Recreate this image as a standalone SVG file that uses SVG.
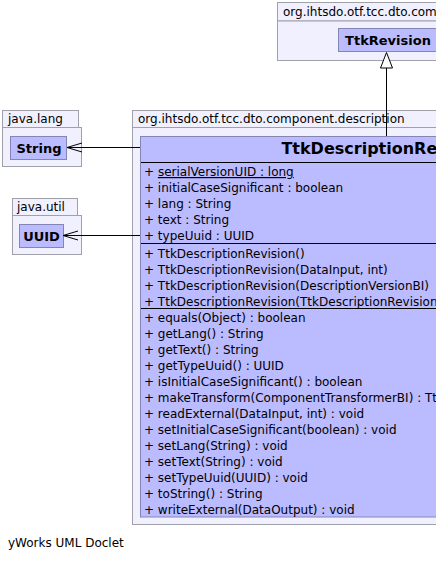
<svg xmlns="http://www.w3.org/2000/svg" width="436" height="562" viewBox="0 0 436 562">
<style>
text{font-family:"DejaVu Sans","Noto Sans",sans-serif;font-size:12px;fill:#000}
.pkg{fill:#F0F0FF;stroke:#A0A0A8;stroke-width:1}
.cls{fill:#BBBBFF;stroke:#8585B5;stroke-width:1}
.b{font-weight:bold;font-size:13px;text-anchor:middle}
.title{font-weight:bold;font-size:16px;text-anchor:middle}
.sep{stroke:#000;stroke-width:1}
.ln{stroke:#000;stroke-width:1;fill:none}
</style>
<rect width="436" height="562" fill="#FFFFFF"/>
<g id="pkg-dto">
<rect class="pkg" x="277.5" y="2.5" width="200" height="18.5"/>
<rect class="pkg" x="277.5" y="21" width="200" height="39.5"/>
<text x="283" y="16">org.ihtsdo.otf.tcc.dto.component</text>
</g>
<g id="TtkRevision">
<rect class="cls" x="338.5" y="28.5" width="100" height="23"/>
<text class="b" x="388" y="45">TtkRevision</text>
</g>
<g id="pkg-java-lang">
<rect class="pkg" x="2.5" y="110.5" width="76" height="17"/>
<rect class="pkg" x="2.5" y="127.5" width="79" height="39"/>
<text x="8" y="123">java.lang</text>
</g>
<g id="String">
<rect class="cls" x="10.5" y="136.5" width="56" height="23"/>
<text class="b" x="39" y="152.5">String</text>
</g>
<g id="pkg-java-util">
<rect class="pkg" x="12.5" y="198.5" width="65" height="17"/>
<rect class="pkg" x="12.5" y="215.5" width="69" height="39"/>
<text x="17" y="211">java.util</text>
</g>
<g id="UUID">
<rect class="cls" x="19.5" y="224.5" width="44" height="23"/>
<text class="b" x="41.5" y="240.5">UUID</text>
</g>
<g id="pkg-description">
<rect class="pkg" x="132.5" y="110.5" width="400" height="17"/>
<rect class="pkg" x="132.5" y="127.5" width="400" height="397"/>
<text x="138" y="123">org.ihtsdo.otf.tcc.dto.component.description</text>
</g>
<g id="TtkDescriptionRevision">
<rect class="cls" x="140.5" y="136.5" width="491" height="380.5"/>
<text class="title" x="386" y="154">TtkDescriptionRevision</text>
<line class="sep" x1="141" y1="162.5" x2="632" y2="162.5"/>
<text x="144" y="176">+ <tspan text-decoration="underline">serialVersionUID : long</tspan></text>
<text x="144" y="192">+ initialCaseSignificant : boolean</text>
<text x="144" y="208">+ lang : String</text>
<text x="144" y="224">+ text : String</text>
<text x="144" y="240">+ typeUuid : UUID</text>
<line class="sep" x1="141" y1="243.5" x2="632" y2="243.5"/>
<text x="144" y="257.5">+ TtkDescriptionRevision()</text>
<text x="144" y="273.5">+ TtkDescriptionRevision(DataInput, int)</text>
<text x="144" y="289.5">+ TtkDescriptionRevision(DescriptionVersionBI)</text>
<text x="144" y="305.5">+ TtkDescriptionRevision(TtkDescriptionRevision)</text>
<line class="sep" x1="141" y1="308.5" x2="632" y2="308.5"/>
<text x="144" y="321.5">+ equals(Object) : boolean</text>
<text x="144" y="337.5">+ getLang() : String</text>
<text x="144" y="353.5">+ getText() : String</text>
<text x="144" y="369.5">+ getTypeUuid() : UUID</text>
<text x="144" y="385.5">+ isInitialCaseSignificant() : boolean</text>
<text x="144" y="401.5">+ makeTransform(ComponentTransformerBI) : TtkDescriptionRevision</text>
<text x="144" y="417.5">+ readExternal(DataInput, int) : void</text>
<text x="144" y="433.5">+ setInitialCaseSignificant(boolean) : void</text>
<text x="144" y="449.5">+ setLang(String) : void</text>
<text x="144" y="465.5">+ setText(String) : void</text>
<text x="144" y="481.5">+ setTypeUuid(UUID) : void</text>
<text x="144" y="497.5">+ toString() : String</text>
<text x="144" y="513.5">+ writeExternal(DataOutput) : void</text>
</g>
<g id="connectors">
<line class="ln" x1="386.5" y1="68" x2="386.5" y2="136"/>
<polygon points="386.5,52.5 380.5,68 392.5,68" fill="#FFFFFF" stroke="#000" stroke-width="1"/>
<line class="ln" x1="67" y1="147.5" x2="140" y2="147.5"/>
<polyline class="ln" points="82,143 67,147.5 82,152"/>
<line class="ln" x1="63" y1="235.5" x2="140" y2="235.5"/>
<polyline class="ln" points="78,231 63,235.5 78,240"/>
</g>
<text x="8" y="547">yWorks UML Doclet</text>
</svg>
